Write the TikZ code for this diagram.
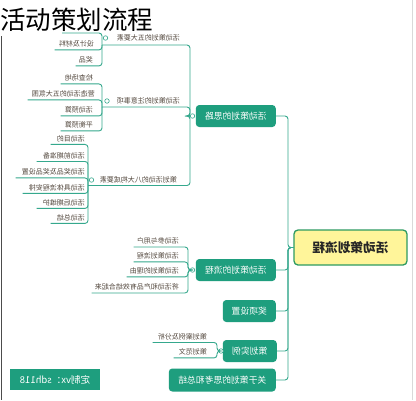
\documentclass[tikz,border=0pt]{standalone}
\usepackage{fontspec}
\usepackage{graphicx}
\newfontfamily\cjk{Noto Sans CJK SC}
\newcommand{\mir}[1]{\reflectbox{#1}}
\definecolor{ln}{HTML}{35A88D}
\definecolor{tp}{HTML}{1E9E7E}
\definecolor{lb}{HTML}{54493F}
\definecolor{rootfill}{HTML}{FFF59A}
\definecolor{rootdraw}{HTML}{2E9B62}
\begin{document}
\begin{tikzpicture}[x=1pt,y=-1pt,
  conn/.style={draw=ln, line width=0.9pt, rounded corners=3pt},
  topic/.style={fill=tp, rounded corners=3.5pt, text=white, font=\cjk\fontsize{8.8}{9}\selectfont, minimum height=22pt, inner sep=0pt, anchor=east},
  rootbox/.style={fill=rootfill, draw=rootdraw, line width=1.3pt, rounded corners=4pt, text=black!85, font=\cjk\bfseries\fontsize{12.7}{14}\selectfont, minimum width=113pt, minimum height=35pt, inner sep=0pt},
  lab/.style={text=lb, font=\cjk\fontsize{7}{8}\selectfont, inner xsep=0pt, inner ysep=2.5pt, anchor=east},
  dot/.style={circle, draw=ln, fill=white, line width=0.6pt, minimum size=4.5pt, inner sep=0pt}]
\useasboundingbox (0,0) rectangle (416,400);
\fill[white] (0,0) rectangle (416,400);
% frame lines
\draw[black!70, line width=0.8pt] (1,36) -- (1,400);
\draw[black!15, line width=0.6pt] (412,0) -- (412,400);

% root and main topics
\node[rootbox] (root) at (350.5,247.5) {\mir{活动策划流程}};
\node[topic, minimum width=80pt] (t1) at (276,116) {\mir{活动策划的思路}};
\node[topic, minimum width=80pt] (t2) at (276,270) {\mir{活动策划的流程}};
\node[topic, minimum width=53pt] (t3) at (276,311) {\mir{奖项设置}};
\node[topic, minimum width=54pt] (t4) at (277,351) {\mir{策划实例}};
\node[topic, minimum width=107pt, minimum height=23pt] (t5) at (276,380) {\mir{关于策划的思考和总结}};

\coordinate (sp) at (288,247.5);
\foreach \t in {t1,t2,t3,t4,t5}{
  \draw[conn] (root.west) -- (sp) |- (\t.east);
}

% ---- branch 1 ----
\node[dot] (d1) at (192.5,116) {};
\coordinate (s1) at (190,116);
\node[lab] (A) at (180,38) {\mir{活动策划的五大要素}};
\node[lab] (B) at (180,101) {\mir{活动策划的注意事项}};
\node[lab] (C) at (177,180) {\mir{策划活动的八大构成要素}};
\coordinate (Aul) at (102,45);
\coordinate (Bul) at (102,107);
\coordinate (Cul) at (88,185.5);
\draw[conn] (d1.west) -- (s1) |- (Aul);
\draw[conn] (d1.west) -- (s1) |- (Bul);
\draw[conn] (d1.west) -- (s1) |- (Cul);
\node[dot] (Ad) at (105.5,38) {};
\node[dot] (Bd) at (107,101) {};
\node[dot] (Cd) at (91.5,180) {};

% children of A
\coordinate (a0) at (62,33);
\node[lab] (a1) at (94,44) {\mir{设计及材料}};
\node[lab] (a2) at (93,60) {\mir{奖品}};
\draw[conn] (Aul) |- (a0);
\draw[conn] (Aul) |- ([xshift=-4pt]a1.south west);
\draw[conn] (Aul) |- ([xshift=-3pt]a2.south west);

% children of B
\node[lab] (b1) at (93,78) {\mir{检查场地}};
\node[lab] (b2) at (95,94) {\mir{营造活动的五大氛围}};
\node[lab] (b3) at (93,110) {\mir{活动预算}};
\node[lab] (b4) at (93,125) {\mir{平衡预算}};
\foreach \c in {b1,b2,b3,b4}{
  \draw[conn] (Bul) |- ([xshift=-4pt]\c.south west);
}

% children of C
\node[lab] (c1) at (85,138.5) {\mir{活动目的}};
\node[lab] (c2) at (85,155.5) {\mir{活动前期准备}};
\node[lab] (c3) at (85,172) {\mir{活动奖品及奖品设置}};
\node[lab] (c4) at (85,187.5) {\mir{活动具体流程安排}};
\node[lab] (c5) at (85,202.5) {\mir{活动后期维护}};
\node[lab] (c6) at (85,217.5) {\mir{活动总结}};
\foreach \c in {c1,c2,c3,c4,c5,c6}{
  \draw[conn] (Cul) |- ([xshift=-6pt]\c.south west);
}

% ---- branch 2 ----
\node[dot] (d2) at (192.5,270) {};
\coordinate (s2) at (188,270);
\node[lab] (p1) at (179,241) {\mir{活动参与用户}};
\node[lab] (p2) at (179,256) {\mir{活动策划流程}};
\node[lab] (p3) at (179,271) {\mir{活动策划的理由}};
\node[lab] (p4) at (179,287) {\mir{将活动和产品有效结合起来}};
\foreach \c in {p1,p2,p3,p4}{
  \draw[conn] (d2.west) -- (s2) |- ([xshift=-3pt]\c.south west);
}

% ---- branch 4 ----
\node[dot] (d4) at (221,351) {};
\coordinate (s4) at (217,351);
\node[lab] (q1) at (207,336.5) {\mir{策划案例及分析}};
\node[lab] (q2) at (207,352) {\mir{策划范文}};
\foreach \c in {q1,q2}{
  \draw[conn] (d4.west) -- (s4) |- ([xshift=-5pt]\c.south west);
}

% watermark box
\node[fill=tp, text=white, font=\cjk\fontsize{9.5}{10}\selectfont, minimum width=90pt, minimum height=21pt, inner sep=0pt] (wm) at (55,379.5) {\mir{定制vx：sdh118}};

% title
\node[anchor=west, inner sep=0pt, text=black, font=\cjk\fontsize{25.5}{27}\selectfont] (title) at (0,20) {活动策划流程};
\end{tikzpicture}
\end{document}
